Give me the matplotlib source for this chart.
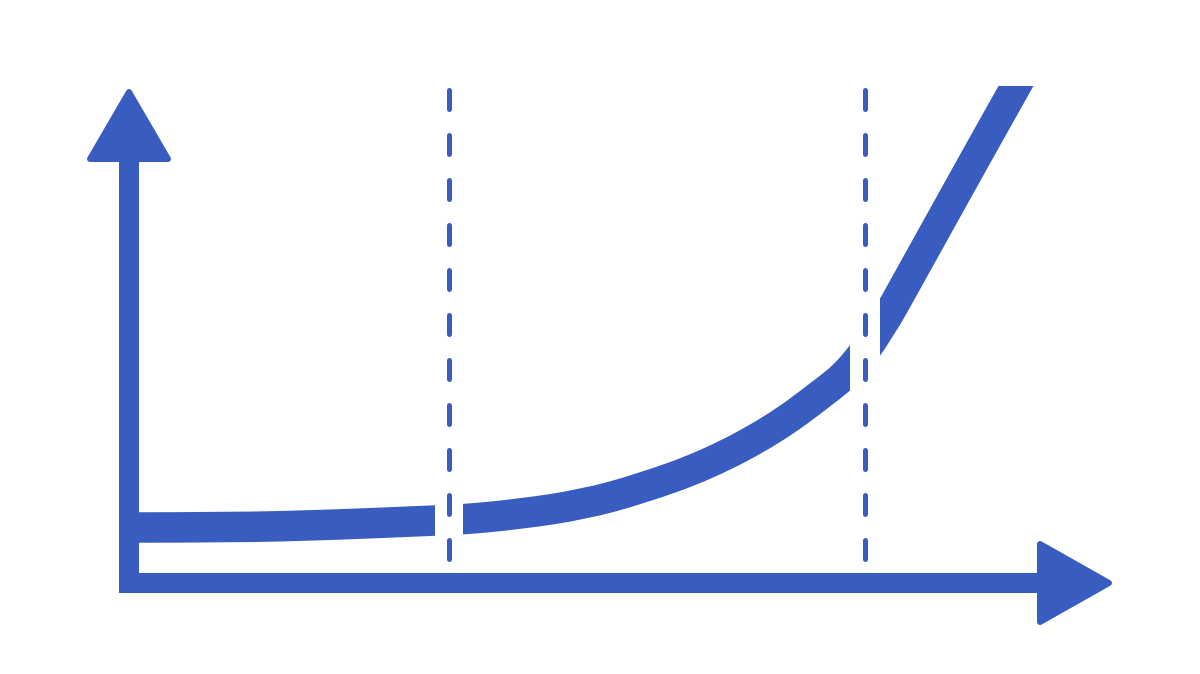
import matplotlib
matplotlib.use("Agg")
import matplotlib.pyplot as plt
from matplotlib.patches import Rectangle, Polygon, PathPatch
from matplotlib.path import Path

# Curve centre-line (pixel-like coordinates, y grows downwards)
curve_x = [129, 230, 330, 435, 463, 520, 583, 640, 707, 773, 823, 850, 880, 910, 940, 980, 1016, 1040]
curve_y = [527.5, 527.5, 525, 520.5, 519.5, 514, 504.5, 489, 465, 430, 393, 371, 330, 276, 222, 150, 86, 43]

# Breaks in the curve and the dashed markers
gap_ranges = [(435, 463), (850, 880)]
marker_x = [449, 865]
marker_top, marker_bottom = 89.5, 558.5

COLOR = "#385cbf"
PX = 0.72  # points per pixel at dpi 100

plt.rcParams["lines.scale_dashes"] = False
fig = plt.figure(figsize=(12, 6.74), dpi=100)
ax = fig.add_axes([0, 0, 1, 1])
ax.set_xlim(0, 1200)
ax.set_ylim(674, 0)
ax.axis("off")

# smooth path through the read points (quadratic spline with the points as controls)
pts = list(zip(curve_x, curve_y))
verts = [pts[0]]
codes = [Path.MOVETO]
for i in range(1, len(pts) - 1):
    mid = ((pts[i][0] + pts[i + 1][0]) / 2, (pts[i][1] + pts[i + 1][1]) / 2)
    if i == len(pts) - 2:
        mid = pts[-1]
    verts += [pts[i], mid]
    codes += [Path.CURVE3, Path.CURVE3]
curve_path = Path(verts, codes)

bounds = [0] + [v for g in gap_ranges for v in g] + [1200]
top_clip = 86
for i in range(0, len(bounds), 2):
    x0, x1 = bounds[i], bounds[i + 1]
    pp = PathPatch(curve_path, facecolor="none", edgecolor=COLOR, lw=30.5 * PX,
                   capstyle="butt", joinstyle="round", zorder=2)
    ax.add_patch(pp)
    clip = Rectangle((x0, top_clip), x1 - x0, 674 - top_clip, transform=ax.transData,
                     facecolor="none", edgecolor="none")
    pp.set_clip_path(clip)

# dashed vertical markers
for mx in marker_x:
    ax.plot([mx, mx], [marker_top, marker_bottom], color=COLOR, lw=5 * PX,
            linestyle=(0, (19 * PX, 26 * PX)), dash_capstyle="round", zorder=3)

# axes with arrowheads
ax.add_patch(Rectangle((119, 159), 20, 593 - 159, facecolor=COLOR, edgecolor="none", zorder=4))
ax.add_patch(Rectangle((119, 573), 1040 - 119, 20, facecolor=COLOR, edgecolor="none", zorder=4))
ax.add_patch(Polygon([(129, 92), (90, 159), (168, 159)], closed=True, facecolor=COLOR,
                     edgecolor=COLOR, lw=6 * PX, joinstyle="round", zorder=4))
ax.add_patch(Polygon([(1109, 583), (1040, 544), (1040, 622)], closed=True, facecolor=COLOR,
                     edgecolor=COLOR, lw=6 * PX, joinstyle="round", zorder=4))

fig.savefig("out.png", dpi=100, facecolor="white")
